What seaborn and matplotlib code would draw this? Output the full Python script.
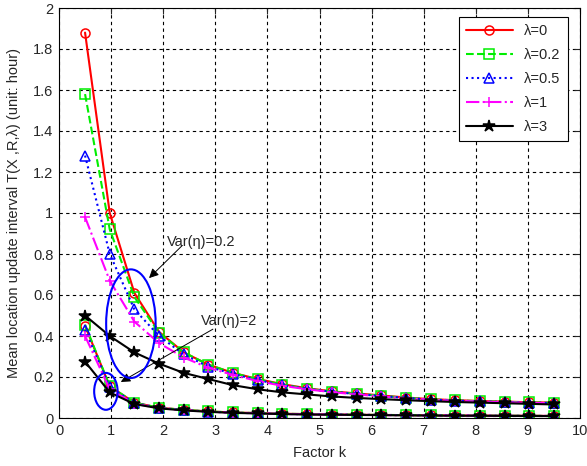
import numpy as np
import pandas as pd
import seaborn as sns
import matplotlib
matplotlib.use("Agg")
import matplotlib.pyplot as plt
from matplotlib.patches import Ellipse

# data
k = [0.5, 0.974, 1.447, 1.921, 2.395, 2.868, 3.342, 3.816, 4.289, 4.763,
     5.237, 5.711, 6.184, 6.658, 7.132, 7.605, 8.079, 8.553, 9.026, 9.5]

lambdas = ["λ=0", "λ=0.2", "λ=0.5", "λ=1", "λ=3"]

# Var(eta)=0.2
T_var02_l0 = [1.88, 1.00, 0.61, 0.42, 0.32, 0.26, 0.22, 0.19, 0.165, 0.145,
              0.13, 0.12, 0.11, 0.10, 0.092, 0.087, 0.083, 0.08, 0.077, 0.075]
T_var02_l02 = [1.58, 0.92, 0.59, 0.415, 0.32, 0.26, 0.22, 0.188, 0.163, 0.143,
               0.129, 0.118, 0.108, 0.099, 0.091, 0.086, 0.082, 0.079, 0.076, 0.074]
T_var02_l05 = [1.28, 0.80, 0.53, 0.40, 0.31, 0.25, 0.215, 0.185, 0.16, 0.142,
               0.128, 0.117, 0.107, 0.098, 0.09, 0.085, 0.081, 0.078, 0.075, 0.073]
T_var02_l1 = [0.98, 0.67, 0.47, 0.365, 0.295, 0.245, 0.21, 0.18, 0.157, 0.14,
              0.126, 0.115, 0.105, 0.097, 0.089, 0.084, 0.08, 0.077, 0.074, 0.072]
T_var02_l3 = [0.50, 0.40, 0.32, 0.265, 0.22, 0.19, 0.16, 0.14, 0.125, 0.115,
              0.105, 0.098, 0.092, 0.087, 0.082, 0.078, 0.075, 0.072, 0.069, 0.066]

# Var(eta)=2
T_var2_l0 = [0.45, 0.155, 0.075, 0.05, 0.04, 0.032, 0.027, 0.024, 0.021, 0.019,
             0.017, 0.016, 0.015, 0.014, 0.013, 0.012, 0.012, 0.011, 0.011, 0.010]
T_var2_l02 = [0.455, 0.155, 0.075, 0.05, 0.04, 0.032, 0.027, 0.024, 0.021, 0.019,
              0.017, 0.016, 0.015, 0.014, 0.013, 0.012, 0.012, 0.011, 0.011, 0.010]
T_var2_l05 = [0.43, 0.15, 0.073, 0.049, 0.039, 0.031, 0.026, 0.023, 0.02, 0.018,
              0.017, 0.016, 0.015, 0.014, 0.013, 0.012, 0.011, 0.011, 0.010, 0.010]
T_var2_l1 = [0.40, 0.14, 0.07, 0.048, 0.038, 0.031, 0.026, 0.023, 0.02, 0.018,
             0.016, 0.015, 0.014, 0.013, 0.012, 0.012, 0.011, 0.010, 0.010, 0.010]
T_var2_l3 = [0.275, 0.125, 0.068, 0.047, 0.037, 0.030, 0.025, 0.022, 0.019, 0.017,
             0.016, 0.015, 0.014, 0.013, 0.012, 0.011, 0.011, 0.010, 0.010, 0.009]

upper = [T_var02_l0, T_var02_l02, T_var02_l05, T_var02_l1, T_var02_l3]
lower = [T_var2_l0, T_var2_l02, T_var2_l05, T_var2_l1, T_var2_l3]

colors = ["red", "#00ee00", "blue", "magenta", "black"]
styles = ["-", "--", ":", "-.", "-"]
marks = ["o", "s", "^", "+", "*"]

sns.set_style("white")
plt.rcParams["font.family"] = ["Liberation Sans", "DejaVu Sans"]
plt.rcParams["font.size"] = 10.5

fig = plt.figure(figsize=(5.87, 4.66), dpi=100)
ax = fig.add_axes([59 / 587, 1 - 418 / 466, 521 / 587, 410 / 466])

for i in range(5):
    filled = marks[i] in ("*", "+")
    for j, ys in enumerate([upper[i], lower[i]]):
        sns.lineplot(x=k, y=ys, ax=ax, color=colors[i], linestyle=styles[i],
                     marker=marks[i], markersize=9 if marks[i] == "*" else 6.5,
                     mfc=colors[i] if filled else "none", mec=colors[i], mew=1.1,
                     lw=1.5, label=lambdas[i] if j == 0 else None, sort=False)

# ellipses marking the two groups
ax.add_patch(Ellipse((1.38, 0.46), 0.95, 0.53, fill=False, ec="blue", lw=1.5, zorder=5))
ax.add_patch(Ellipse((0.90, 0.13), 0.45, 0.18, fill=False, ec="blue", lw=1.5, zorder=5))

arrow = dict(arrowstyle="-|>", color="black", lw=0.7, mutation_scale=14)
ax.text(2.07, 0.86, "Var(η)=0.2", ha="left", va="center", fontsize=10.5)
ax.annotate("", xy=(1.69, 0.673), xytext=(2.4, 0.85), arrowprops=arrow)
ax.text(2.72, 0.475, "Var(η)=2", ha="left", va="center", fontsize=10.5)
ax.annotate("", xy=(1.14, 0.169), xytext=(3.0, 0.44), arrowprops=arrow)

ax.set_xlim(0, 10)
ax.set_ylim(0, 2)
ax.set_xticks(np.arange(0, 11, 1))
ax.set_yticks(np.arange(0, 2.01, 0.2))
ax.set_yticklabels(["0", "0.2", "0.4", "0.6", "0.8", "1", "1.2", "1.4", "1.6", "1.8", "2"])
ax.tick_params(direction="in", top=True, right=True, length=4, width=0.8, pad=4)
ax.grid(True, color="black", linestyle=(0, (3, 3)), lw=0.8)
for sp in ax.spines.values():
    sp.set_color("black")
    sp.set_linewidth(0.8)

ax.set_xlabel("Factor k", labelpad=6)
ax.set_ylabel("Mean location update interval T(X ,R,λ) (unit: hour)", labelpad=9)

leg = ax.legend(loc="upper right", bbox_to_anchor=(1 - 12 / 521, 1 - 9 / 410),
                borderaxespad=0, fancybox=False, edgecolor="black", framealpha=1,
                handlelength=3.2, labelspacing=0.68, borderpad=0.5)
leg.get_frame().set_linewidth(0.8)

fig.savefig("out.png", dpi=100)
